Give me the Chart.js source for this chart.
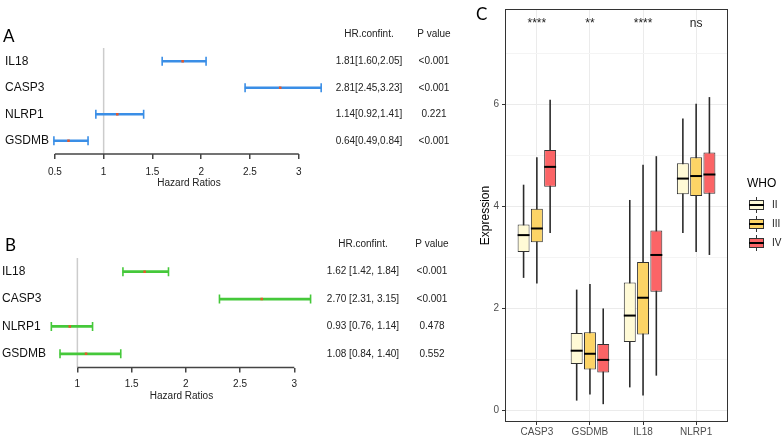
<!DOCTYPE html>
<html>
<head>
<meta charset="utf-8">
<script src="https://cdn.jsdelivr.net/npm/chart.js@4.4.0/dist/chart.umd.min.js"></script>
<style>
    html, body { margin: 0; padding: 0; background: #fff; }
    body { width: 783px; height: 438px; position: relative; overflow: hidden; }
    canvas { position: absolute; }
    #forestA { left: 0; top: 0; }
    #forestB { left: 0; top: 215px; }
    #boxC { left: 460px; top: 0; }
</style>
</head>
<body>
<canvas id="forestA" width="460" height="215"></canvas>
<canvas id="forestB" width="460" height="223"></canvas>
<canvas id="boxC" width="323" height="438"></canvas>
<script>
// Datos del panel A (cox univariante)
const genesA = ['IL18', 'CASP3', 'NLRP1', 'GSDMB'];
const hrA = [1.81, 2.81, 1.14, 0.64];
const lowA = [1.60, 2.45, 0.92, 0.49];
const highA = [2.05, 3.23, 1.41, 0.84];
const pA = ['<0.001', '<0.001', '0.221', '<0.001'];
const ticksA = [0.5, 1, 1.5, 2, 2.5, 3];

// Datos del panel B (cox multivariante)
const genesB = ['IL18', 'CASP3', 'NLRP1', 'GSDMB'];
const hrB = [1.62, 2.70, 0.93, 1.08];
const lowB = [1.42, 2.31, 0.76, 0.84];
const highB = [1.84, 3.15, 1.14, 1.40];
const pB = ['<0.001', '<0.001', '0.478', '0.552'];
const ticksB = [1, 1.5, 2, 2.5, 3];

// Datos del panel C (boxplot por grado WHO), una fila por grado
const categories = ['CASP3', 'GSDMB', 'IL18', 'NLRP1'];
const grades = ['II', 'III', 'IV'];
const gradeColors = ['#FFFAD6', '#FCD466', '#FB6466'];
const boxMin = [[2.60, 0.19, 0.45, 3.48], [2.49, 0.31, 0.29, 3.11], [3.48, 0.12, 0.68, 3.05]];
const boxQ1 = [[3.11, 0.91, 1.34, 4.24], [3.30, 0.80, 1.49, 4.21], [4.39, 0.74, 2.33, 4.25]];
const boxMed = [[3.44, 1.17, 1.86, 4.55], [3.57, 1.11, 2.21, 4.60], [4.78, 0.99, 3.05, 4.63]];
const boxQ3 = [[3.65, 1.52, 2.51, 4.85], [3.96, 1.53, 2.91, 4.97], [5.11, 1.30, 3.53, 5.06]];
const boxMax = [[4.43, 2.37, 4.13, 5.73], [4.97, 2.48, 4.82, 6.02], [6.10, 2.00, 4.99, 6.15]];
const signif = ['****', '**', '****', 'ns'];
const majorY = [0, 2, 4, 6];
const minorY = [1, 3, 5, 7];

const FUENTE = "'Liberation Sans', Arial, Helvetica, sans-serif";

// Función para crear un forest plot
function crearForest(canvasId, cfg) {
    const ctx = document.getElementById(canvasId);
    if (!ctx) return;

    const plugin = {
        id: 'tablaForest',
        beforeDatasetsDraw(chart) {
            const { ctx: c, chartArea, scales } = chart;
            const x = scales.x.getPixelForValue(1);
            c.save();
            c.strokeStyle = '#cccccc';
            c.lineWidth = 1.5;
            c.beginPath();
            c.moveTo(x, chartArea.top);
            c.lineTo(x, chartArea.bottom);
            c.stroke();
            c.restore();
        },
        afterDraw(chart) {
            const { ctx: c, chartArea, scales } = chart;
            c.save();
            // línea del eje solo entre los ticks
            c.strokeStyle = '#444';
            c.lineWidth = 1.5;
            c.beginPath();
            c.moveTo(scales.x.getPixelForValue(cfg.ticks[0]), chartArea.bottom);
            c.lineTo(scales.x.getPixelForValue(cfg.ticks[cfg.ticks.length - 1]), chartArea.bottom);
            c.stroke();

            // tabla de HR y p
            c.fillStyle = '#222';
            c.font = '10px ' + FUENTE;
            c.textAlign = 'center';
            c.textBaseline = 'middle';
            const yHead = chartArea.top - 13.5;
            c.fillText('HR.confint.', cfg.colHR, yHead);
            c.fillText('P value', cfg.colP, yHead);
            cfg.genes.forEach((g, i) => {
                const y = scales.y.getPixelForValue(i);
                c.fillText(cfg.ciText(i), cfg.colHR, y);
                c.fillText(cfg.pvals[i], cfg.colP, y);
            });

            // letra del panel
            c.fillStyle = '#000';
            c.font = '17px Lato, ' + FUENTE;
            c.textAlign = 'left';
            c.fillText(cfg.letra, cfg.letraX, cfg.letraY);
            c.restore();
        }
    };

    new Chart(ctx, {
        type: 'bar',
        data: {
            labels: cfg.genes,
            datasets: [
                {
                    type: 'scatter',
                    data: cfg.genes.map((g, i) => ({ x: cfg.hr[i], y: g })),
                    pointStyle: 'rect',
                    radius: 1.8,
                    backgroundColor: '#E5572A',
                    borderWidth: 0
                },
                {
                    type: 'scatter',
                    data: cfg.genes.map((g, i) => ({ x: cfg.low[i], y: g }))
                        .concat(cfg.genes.map((g, i) => ({ x: cfg.high[i], y: g }))),
                    pointStyle: 'line',
                    rotation: 90,
                    radius: 4.5,
                    borderColor: cfg.color,
                    borderWidth: 1.6
                },
                {
                    data: cfg.genes.map((g, i) => [cfg.low[i], cfg.high[i]]),
                    backgroundColor: cfg.color,
                    barThickness: 2
                }
            ]
        },
        options: {
            responsive: false,
            animation: false,
            indexAxis: 'y',
            layout: { padding: cfg.pad },
            plugins: { legend: { display: false }, tooltip: { enabled: false } },
            scales: {
                x: {
                    type: 'linear',
                    min: cfg.xMin,
                    max: cfg.xMax,
                    offset: false,
                    afterBuildTicks: s => { s.ticks = cfg.ticks.map(v => ({ value: v })); },
                    afterFit: s => { s.height = cfg.axisH; },
                    grid: { display: true, drawOnChartArea: false, drawTicks: true, tickLength: 5, color: '#444', lineWidth: 1.5, offset: false },
                    border: { display: false },
                    ticks: { font: { family: FUENTE, size: 10 }, color: '#222', padding: cfg.tickPad, maxRotation: 0, callback: v => String(v) },
                    title: { display: true, text: 'Hazard Ratios', font: { family: FUENTE, size: 10 }, color: '#222', padding: 0 }
                },
                y: {
                    type: 'category',
                    labels: cfg.genes,
                    offset: true,
                    afterFit: s => { s.width = 45; },
                    grid: { display: false },
                    border: { display: false },
                    ticks: { font: { family: FUENTE, size: 12 }, color: '#111', crossAlign: 'far', padding: 0 }
                }
            }
        },
        plugins: [plugin]
    });
}

// Función para crear el boxplot del panel C
function crearBoxplot() {
    const ctx = document.getElementById('boxC');
    if (!ctx) return;

    const datasets = [];
    grades.forEach((g, k) => {
        datasets.push({
            label: g,
            stack: g,
            data: categories.map((c, i) => ({ x: i + 1, y: [boxQ1[k][i], boxQ3[k][i]] })),
            backgroundColor: gradeColors[k],
            borderColor: '#333',
            borderWidth: 1,
            borderSkipped: false,
            categoryPercentage: 0.75,
            barPercentage: 0.9
        });
    });
    grades.forEach((g, k) => {
        datasets.push({
            label: g + ' bigote',
            stack: g,
            data: categories.map((c, i) => ({ x: i + 1, y: [boxMin[k][i], boxMax[k][i]] })),
            backgroundColor: '#2b2b2b',
            categoryPercentage: 0.75,
            barPercentage: 0.12
        });
    });

    const extras = {
        id: 'extrasBox',
        afterDatasetsDraw(chart) {
            const { ctx: c, scales } = chart;
            c.save();
            c.strokeStyle = '#000';
            c.lineWidth = 2;
            grades.forEach((g, k) => {
                const meta = chart.getDatasetMeta(k);
                meta.data.forEach((el, i) => {
                    const y = scales.y.getPixelForValue(boxMed[k][i]);
                    c.beginPath();
                    c.moveTo(el.x - el.width / 2, y);
                    c.lineTo(el.x + el.width / 2, y);
                    c.stroke();
                });
            });
            c.restore();
        },
        afterDraw(chart) {
            const { ctx: c, chartArea: a, scales } = chart;
            c.save();
            // borde del panel
            c.strokeStyle = '#333';
            c.lineWidth = 1;
            c.strokeRect(a.left + 0.5, a.top + 0.5, a.right - a.left - 1, a.bottom - a.top - 1);

            // significancia
            c.fillStyle = '#222';
            c.font = '12px ' + FUENTE;
            c.textAlign = 'center';
            c.textBaseline = 'middle';
            signif.forEach((s, i) => {
                c.fillText(s, scales.x.getPixelForValue(i + 1), a.top + 15);
            });

            // letra
            c.fillStyle = '#000';
            c.font = '17px Lato, ' + FUENTE;
            c.textAlign = 'left';
            c.fillText('C', 16, 15);

            // leyenda
            const lx = a.right + 21;
            c.font = '12px ' + FUENTE;
            c.fillText('WHO', lx - 2, 184);
            grades.forEach((g, k) => {
                const cy = 205 + k * 19;
                const cx = lx + 7.5;
                c.strokeStyle = '#333';
                c.lineWidth = 1;
                c.beginPath();
                c.moveTo(cx, cy - 8);
                c.lineTo(cx, cy + 8);
                c.stroke();
                c.fillStyle = gradeColors[k];
                c.fillRect(lx, cy - 5, 15, 10);
                c.strokeRect(lx + 0.5, cy - 4.5, 14, 9);
                c.strokeStyle = '#000';
                c.lineWidth = 2;
                c.beginPath();
                c.moveTo(lx, cy);
                c.lineTo(lx + 15, cy);
                c.stroke();
                c.fillStyle = '#222';
                c.font = '10px ' + FUENTE;
                c.fillText(g, lx + 23, cy);
            });
            c.restore();
        }
    };

    new Chart(ctx, {
        type: 'bar',
        data: { datasets: datasets },
        options: {
            responsive: false,
            animation: false,
            layout: { padding: { top: 6, right: 55, left: 0, bottom: 0 } },
            plugins: { legend: { display: false }, tooltip: { enabled: false } },
            scales: {
                x: {
                    type: 'linear',
                    min: 0.4,
                    max: 4.6,
                    offset: false,
                    afterBuildTicks: s => { s.ticks = categories.map((c, i) => ({ value: i + 1 })); },
                    afterFit: s => { s.height = 16; },
                    grid: { color: '#EBEBEB', lineWidth: 1, tickLength: 3, tickColor: '#333', offset: false },
                    border: { display: false },
                    ticks: { font: { family: FUENTE, size: 10 }, color: '#4D4D4D', padding: 1, maxRotation: 0, callback: v => categories[v - 1] }
                },
                y: {
                    type: 'linear',
                    min: -0.23,
                    max: 7.88,
                    stacked: false,
                    afterBuildTicks: s => { s.ticks = majorY.concat(minorY).sort((p, q) => p - q).map(v => ({ value: v })); },
                    afterFit: s => { s.width = 45; },
                    grid: {
                        color: c => minorY.includes(c.tick.value) ? '#F4F4F4' : '#EBEBEB',
                        tickColor: c => minorY.includes(c.tick.value) ? 'rgba(0,0,0,0)' : '#333',
                        tickLength: 3
                    },
                    border: { display: false },
                    ticks: { font: { family: FUENTE, size: 10 }, color: '#4D4D4D', padding: 3, callback: v => majorY.includes(v) ? String(v) : '' },
                    title: { display: true, text: 'Expression', font: { family: FUENTE, size: 12 }, color: '#000', padding: { top: 18, bottom: 0 } }
                }
            }
        },
        plugins: [extras]
    });
}

// Inicializar los tres paneles
document.addEventListener('DOMContentLoaded', function() {
    crearForest('forestA', {
        genes: genesA, hr: hrA, low: lowA, high: highA, pvals: pA, ticks: ticksA,
        xMin: 0.45, xMax: 3.3, color: '#3A8EE6',
        ciText: i => hrA[i].toFixed(2) + '[' + lowA[i].toFixed(2) + ',' + highA[i].toFixed(2) + ']',
        letra: 'A', letraX: 3, letraY: 37,
        colHR: 369, colP: 434,
        pad: { left: 5, right: 132, top: 48, bottom: 26 }, axisH: 35, tickPad: 7
    });
    crearForest('forestB', {
        genes: genesB, hr: hrB, low: lowB, high: highB, pvals: pB, ticks: ticksB,
        xMin: 0.72, xMax: 3.2, color: '#45C83A',
        ciText: i => hrB[i].toFixed(2) + ' [' + lowB[i].toFixed(2) + ', ' + highB[i].toFixed(2) + ']',
        letra: 'B', letraX: 5, letraY: 31,
        colHR: 363, colP: 432,
        pad: { left: 2, right: 144, top: 43, bottom: 36 }, axisH: 34.5, tickPad: 5.5
    });
    crearBoxplot();
});
</script>
</body>
</html>
